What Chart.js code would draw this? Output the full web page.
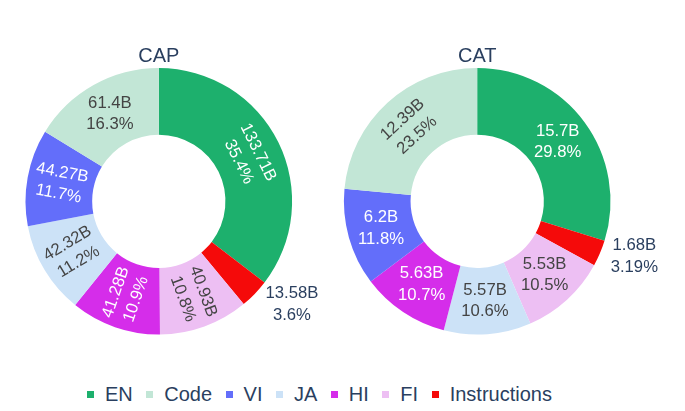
<!DOCTYPE html>
<html>
<head>
<meta charset="utf-8">
<script src="https://cdn.jsdelivr.net/npm/chart.js@4.4.1/dist/chart.umd.min.js"></script>
<style>
  html, body { margin: 0; padding: 0; background: #fff; }
  body { width: 685px; height: 411px; position: relative; overflow: hidden; font-family: "Liberation Sans", Arial, sans-serif; }
  canvas { position: absolute; top: 0; }
  #capChart { left: 0; }
  #catChart { left: 318px; }
  #legend { position: absolute; left: 87px; top: 382px; height: 24px; display: flex; align-items: center; color: #2a3f5f; font-size: 20px; white-space: nowrap; }
  .item { display: flex; align-items: center; }
  .swatch { width: 7px; height: 7px; margin-right: 11px; }
  .lbl { margin-right: 13.5px; line-height: 24px; }
</style>
</head>
<body>
<canvas id="capChart" width="320" height="360"></canvas>
<canvas id="catChart" width="367" height="360"></canvas>
<div id="legend"></div>
<script>
// legend order
const categories = ["EN", "Code", "VI", "JA", "HI", "FI", "Instructions"];
const capValues = [133.71, 61.4, 44.27, 42.32, 41.28, 40.93, 13.58];
const catValues = [15.7, 12.39, 6.2, 5.57, 5.63, 5.53, 1.68];

const colors = ["#1db06d", "#c2e6d6", "#636efa", "#cce2f7", "#d52dea", "#edbff3", "#f50a0a"];

const FONT = '"Liberation Sans", Arial, sans-serif';
const TEXT_COLOR = "#2a3f5f";
const LABEL_SIZE = 16.7;
const LINE_H = 21.5;
const TEXTPAD = 3;

// biggest slice first, the rest going round the other way (like plotly's default)
function sliceOrder(values) {
  const idx = values.map((v, i) => i).sort((a, b) => values[b] - values[a]);
  return [idx[0]].concat(idx.slice(1).reverse());
}

function fmtPct(p) {
  return String(Number(p.toPrecision(3)));
}

function isLight(hex) {
  const n = parseInt(hex.slice(1), 16);
  const r = n >> 16, g = (n >> 8) & 255, b = n & 255;
  return (r * 299 + g * 587 + b * 114) / 1000 >= 128;
}

function norm(deg) {
  return ((deg % 180) + 180 + 90) % 180 - 90;
}

function maxHalfSize(a, half, r, ring) {
  const q = a + 1 / (2 * Math.tan(half));
  return r * Math.min(1 / (Math.sqrt(q * q + 0.5) + q), ring / (Math.sqrt(a * a + ring / 2) + a));
}

// pick horizontal / radial / tangential text, whichever fits best
function fitTransform(w, h, R, ring, half, theta) {
  const deg = theta * 180 / Math.PI;
  const rIns = Math.min(1 / (1 + 1 / Math.sin(Math.min(half, Math.PI / 2))), ring / 2);
  const horiz = { scale: rIns * R * 2 / Math.hypot(w, h), rotate: 0 };
  if (horiz.scale >= 1) return horiz;
  const r = Math.max(0, R - 2 * TEXTPAD);
  const rad = { scale: maxHalfSize(w / h, half, r, ring) * 2 / h, rotate: norm(deg - 90) };
  const tan = { scale: maxHalfSize(h / w, half, r, ring) * 2 / w, rotate: norm(deg) };
  return [horiz, rad, tan].reduce((best, t) => (t.scale > best.scale ? t : best));
}

const sliceLabels = {
  id: "sliceLabels",
  afterDatasetsDraw(chart) {
    const ctx = chart.ctx;
    const ds = chart.data.datasets[0];
    const total = ds.data.reduce((a, b) => a + b, 0);
    ctx.save();
    ctx.font = LABEL_SIZE + "px " + FONT;
    ctx.textAlign = "center";
    ctx.textBaseline = "middle";
    chart.getDatasetMeta(0).data.forEach((arc, i) => {
      const p = arc.getProps(["x", "y", "startAngle", "endAngle", "innerRadius", "outerRadius"], true);
      const lines = [ds.data[i] + "B", fmtPct(ds.data[i] / total * 100) + "%"];
      const w = Math.max(...lines.map(s => ctx.measureText(s).width));
      const h = lines.length * LINE_H;
      const half = (p.endAngle - p.startAngle) / 2;
      const theta = p.startAngle + half + Math.PI / 2; // clockwise from 12 o'clock
      const R = p.outerRadius;
      const ring = 1 - p.innerRadius / R;
      const t = fitTransform(w, h, R, ring, half, theta);
      let tx, ty, rot = 0, color;
      if (t.scale >= 1) {
        const rm = (p.innerRadius + R) / 2;
        tx = p.x + rm * Math.sin(theta);
        ty = p.y - rm * Math.cos(theta);
        rot = t.rotate;
        color = isLight(ds.backgroundColor[i]) ? "#444" : "#fff";
      } else {
        const px = R * Math.sin(theta), py = -R * Math.cos(theta);
        let dx = w / 2, dy = h / 2;
        if (px < 0) dx = -dx;
        if (py < 0) dy = -dy;
        tx = p.x + px + dx + Math.abs(dy) * Math.sign(dx) / 2;
        ty = p.y + py + dy / (1 + (px * px) / (py * py));
        color = TEXT_COLOR;
      }
      ctx.save();
      ctx.translate(tx, ty);
      ctx.rotate(rot * Math.PI / 180);
      ctx.fillStyle = color;
      lines.forEach((s, k) => ctx.fillText(s, 0, (k - (lines.length - 1) / 2) * LINE_H));
      ctx.restore();
    });
    ctx.restore();
  }
};

function makeDonut(canvasId, title, values, pad) {
  const order = sliceOrder(values);
  return new Chart(document.getElementById(canvasId), {
    type: "doughnut",
    data: {
      labels: order.map(i => categories[i]),
      datasets: [{
        data: order.map(i => values[i]),
        backgroundColor: order.map(i => colors[i]),
        borderWidth: 0,
        hoverOffset: 0,
      }],
    },
    options: {
      responsive: false,
      animation: false,
      events: [],
      cutout: "50%",
      layout: { padding: pad },
      plugins: {
        legend: { display: false },
        tooltip: { enabled: false },
        title: {
          display: true,
          text: title,
          color: TEXT_COLOR,
          padding: 0,
          font: { family: FONT, size: 20, weight: "normal", lineHeight: 1.2 },
        },
      },
    },
    plugins: [sliceLabels],
  });
}

makeDonut("capChart", "CAP", capValues, { left: 25.5, right: 27.9, top: 44, bottom: 25.4 });
makeDonut("catChart", "CAT", catValues, { left: 25.9, right: 74.5, top: 44, bottom: 25.4 });

// shared legend
const legend = document.getElementById("legend");
categories.forEach((c, i) => {
  const item = document.createElement("div");
  item.className = "item";
  const sw = document.createElement("div");
  sw.className = "swatch";
  sw.style.background = colors[i];
  const lbl = document.createElement("span");
  lbl.className = "lbl";
  lbl.textContent = c;
  item.appendChild(sw);
  item.appendChild(lbl);
  legend.appendChild(item);
});
</script>
</body>
</html>
